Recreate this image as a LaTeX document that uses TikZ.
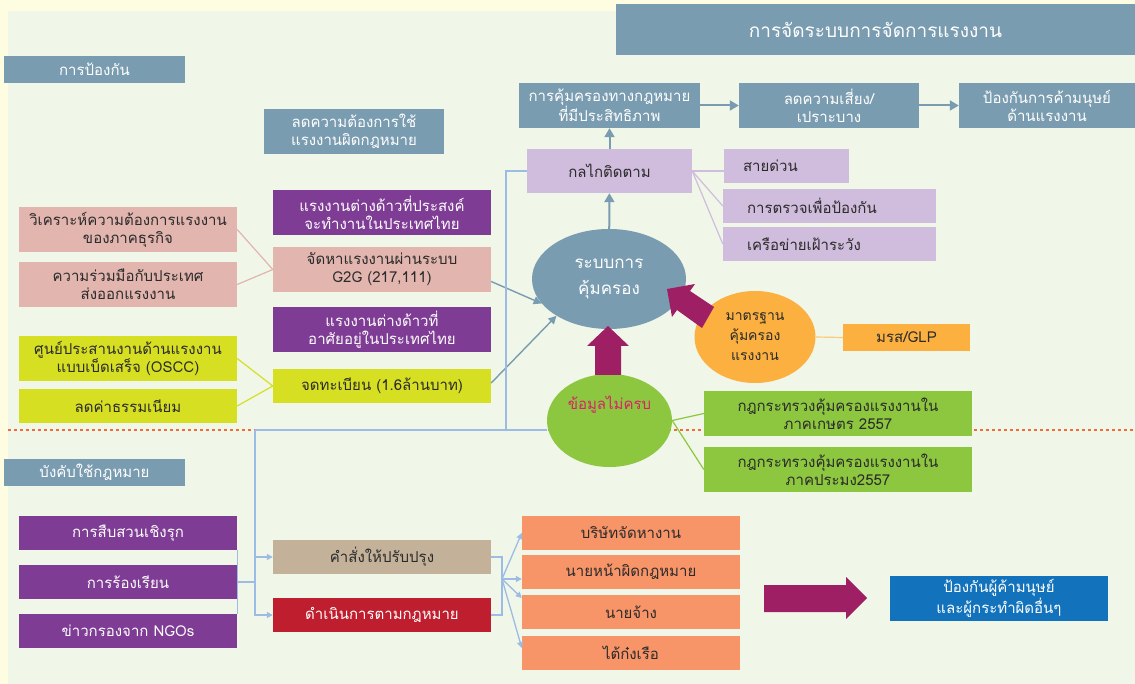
\documentclass[tikz,border=0pt]{standalone}
\usepackage{fontspec}
\usepackage{tikz}
\usetikzlibrary{calc,arrows.meta,shapes.geometric}
\newfontfamily\thaifont[Script=Thai]{Loma}
\definecolor{bgout}{HTML}{FEFCE1}
\definecolor{bgin}{HTML}{F0F6E8}
\definecolor{steel}{HTML}{7A9CB0}
\definecolor{plum}{HTML}{7E3C94}
\definecolor{rose}{HTML}{E2B5AF}
\definecolor{lime}{HTML}{D7DF23}
\definecolor{lilac}{HTML}{D0BCDC}
\definecolor{amber}{HTML}{FBB040}
\definecolor{leaf}{HTML}{8DC63F}
\definecolor{sand}{HTML}{C3B299}
\definecolor{brick}{HTML}{BE1E2D}
\definecolor{salmon}{HTML}{F79468}
\definecolor{royal}{HTML}{1273BC}
\definecolor{wine}{HTML}{9E1F63}
\definecolor{sky}{HTML}{9DBCE4}
\definecolor{ink}{HTML}{2B2B2B}
\definecolor{cut}{HTML}{F26B3A}
\definecolor{pinkred}{HTML}{D8226A}
\tikzset{
  sz/.style 2 args={minimum width=#1pt, minimum height=#2pt},
  box/.style={rectangle, inner sep=0pt, align=center, text=ink,
    font=\thaifont\fontsize{15}{18}\selectfont},
  hd/.style={box, fill=steel, text=white},
  pl/.style={box, fill=plum, text=white},
  rs/.style={box, fill=rose},
  lm/.style={box, fill=lime},
  lc/.style={box, fill=lilac},
  lf/.style={box, fill=leaf},
  sl/.style={box, fill=salmon},
  oval/.style={ellipse, inner sep=0pt, align=center, text=ink,
    font=\thaifont\fontsize{14}{20}\selectfont},
  flow/.style={draw=steel, line width=2pt, -{Triangle[length=9pt,width=10pt]}},
  flowt/.style={draw=steel, line width=1.4pt, -{Triangle[length=8pt,width=8pt]}},
  link/.style={draw=sky, line width=1.3pt},
  linka/.style={link, -{Triangle[length=6pt,width=6pt]}},
  tie/.style={line width=1.2pt},
  bigarr/.style={fill=wine},
}
\begin{document}
\begin{tikzpicture}[x=1pt,y=-1pt]
  \useasboundingbox (0,0) rectangle (1135,684);
  \fill[bgout] (0,0) rectangle (1135,684);
  \fill[bgin] (8,11) rectangle (1135,684);
  \draw[cut, dashed, line width=1.2pt] (8,430) -- (1135,430);

  % headings
  \node[hd, sz={519}{51}, font=\thaifont\fontsize{19}{22}\selectfont] (title) at (875.5,29.5) {การจัดระบบการจัดการแรงงาน};
  \node[hd, sz={181}{27}] (prev) at (94.5,69.5) {การป้องกัน};
  \node[hd, sz={181}{27}] (enf) at (94.5,472.5) {บังคับใช้กฎหมาย};
  \node[hd, sz={180}{45}] (reduce) at (354,131.5) {ลดความต้องการใช้\\แรงงานผิดกฎหมาย};
  \node[hd, sz={181}{45}] (legal) at (609.5,105.5) {การคุ้มครองทางกฎหมาย\\ที่มีประสิทธิภาพ};
  \node[hd, sz={180}{45}] (risk) at (829,105.5) {ลดความเสี่ยง/\\เปราะบาง};
  \node[hd, sz={176}{45}] (antitr) at (1047,105.5) {ป้องกันการค้ามนุษย์\\ด้านแรงงาน};

  % monitoring
  \node[lc, sz={165}{44}] (track) at (609.5,171) {กลไกติดตาม};
  \node[lc, sz={125}{34}, text width=87pt, inner xsep=19pt, align=left] (hot) at (786.5,166) {สายด่วน};
  \node[lc, sz={213}{34}, text width=165pt, inner xsep=24pt, align=left] (insp) at (829.5,206) {การตรวจเพื่อป้องกัน};
  \node[lc, sz={213}{34}, text width=165pt, inner xsep=24pt, align=left] (net) at (829.5,244) {เครือข่ายเฝ้าระวัง};

  % prevention side
  \node[pl, sz={218}{45}] (want) at (382,212.5) {แรงงานต่างด้าวที่ประสงค์\\จะทำงานในประเทศไทย};
  \node[rs, sz={218}{45}] (anal) at (128,229.5) {วิเคราะห์ความต้องการแรงงาน\\ของภาคธุรกิจ};
  \node[rs, sz={218}{45}] (coop) at (128,284.5) {ความร่วมมือกับประเทศ\\ส่งออกแรงงาน};
  \node[rs, sz={218}{45}] (gtog) at (382,269.5) {จัดหาแรงงานผ่านระบบ\\G2G (217,111)};
  \node[pl, sz={218}{45}] (resid) at (382,329.5) {แรงงานต่างด้าวที่\\อาศัยอยู่ในประเทศไทย};
  \node[lm, sz={218}{45}] (oscc) at (128,358.5) {ศูนย์ประสานงานด้านแรงงาน\\แบบเบ็ดเสร็จ (OSCC)};
  \node[lm, sz={218}{34}] (fee) at (128,406) {ลดค่าธรรมเนียม};
  \node[lm, sz={218}{34}] (reg) at (382,386) {จดทะเบียน (1.6ล้านบาท)};

  % protection system
  \node[oval, fill=steel, text=white, sz={154}{100}, font=\thaifont\fontsize{17}{26}\selectfont] (prot) at (609,279) {ระบบการ\\คุ้มครอง};
  \node[oval, fill=amber, sz={121}{92}] (std) at (755,337) {มาตรฐาน\\คุ้มครอง\\แรงงาน};
  \node[box, fill=amber, sz={127}{27}] (glp) at (906.5,337.5) {มรส/GLP};
  \node[oval, fill=leaf, text=pinkred, sz={125}{93}, font=\thaifont\fontsize{15}{18}\selectfont] (lack) at (609.5,420.5) {ข้อมูลไม่ครบ\\[12pt]\strut};
  \node[lf, sz={268}{45}] (law1) at (838,413.5) {กฎกระทรวงคุ้มครองแรงงานใน\\ภาคเกษตร 2557};
  \node[lf, sz={268}{45}] (law2) at (838,469.5) {กฎกระทรวงคุ้มครองแรงงานใน\\ภาคประมง2557};

  % enforcement side
  \node[pl, sz={218}{34}] (inv) at (128,533) {การสืบสวนเชิงรุก};
  \node[pl, sz={218}{34}] (comp) at (128,582) {การร้องเรียน};
  \node[pl, sz={218}{34}] (ngo) at (128,631) {ข่าวกรองจาก NGOs};
  \node[box, fill=sand, sz={218}{34}] (order) at (382,557) {คำสั่งให้ปรับปรุง};
  \node[box, fill=brick, text=white, sz={218}{34}] (act) at (382,615) {ดำเนินการตามกฎหมาย};
  \node[sl, sz={218}{34}] (agency) at (631,533) {บริษัทจัดหางาน};
  \node[sl, sz={218}{34}] (broker) at (631,572) {นายหน้าผิดกฎหมาย};
  \node[sl, sz={218}{34}] (empl) at (631,612) {นายจ้าง};
  \node[sl, sz={218}{34}] (capt) at (631,653) {ไต้ก๋งเรือ};
  \node[box, fill=royal, text=white, sz={218}{45}] (stop) at (999,598.5) {ป้องกันผู้ค้ามนุษย์\\และผู้กระทำผิดอื่นๆ};

  \coordinate (tj) at (506,430);
  \coordinate (jn) at (255,430);
  \coordinate (rj) at (502,579);

  % flows
  \draw[flow] (legal) -- (risk);
  \draw[flow] (risk) -- (antitr);
  \draw[flow] (track) -- (legal);
  \draw[flow] (prot) -- (track);
  \draw[flowt] ($(gtog.east)+(0,12)$) -- (prot.200);
  \draw[flowt] ($(reg.east)+(0,-3)$) -- (prot.215);

  % ties
  \draw[tie, rose] (anal.east) -- (gtog.west);
  \draw[tie, rose] (coop.east) -- (gtog.west);
  \draw[tie, lime] (oscc.east) -- (reg.west);
  \draw[tie, lime] (fee.east) -- (reg.west);
  \draw[tie, lilac] (track.east) -- (track.east -| hot.west);
  \draw[tie, lilac] (track.east) -- (insp.west);
  \draw[tie, lilac] (track.east) -- (net.west);
  \draw[tie, amber!70] (std.east) -- (glp.west);
  \draw[tie, leaf] (lack.east) -- (law1.west);
  \draw[tie, leaf] (lack.east) -- (law2.west);

  % enforcement links
  \draw[link] (track.west) -| (tj);
  \draw[link] (jn) -- (lack.west |- jn);
  \draw[linka] (jn) |- (order.west);
  \draw[linka] (jn) |- (act.west);
  \draw[link] (inv.south east) -- (ngo.north east);
  \draw[link] (comp.east) -- (jn |- comp.east);
  \draw[link] (order.east) -- (rj |- order.east) -- (rj |- act.east) -- (act.east);
  \draw[linka] (rj) -- (agency.west);
  \draw[linka] (rj) -- (rj -| broker.west);
  \draw[linka] (rj) -- ($(empl.west)+(0,-14)$);
  \draw[linka] (rj) -- ($(capt.west)+(0,-5)$);

  % block arrows
  \fill[bigarr] (595,375) -- (595,346) -- (587,346) -- (608,326) -- (629,346) -- (621,346) -- (621,375) -- cycle;
  \fill[bigarr] (714,307) -- (690,291) -- (695,284) -- (667,289) -- (672,317) -- (677,310) -- (702,328) -- cycle;
  \fill[bigarr] (764,585) -- (846,585) -- (846,577) -- (867,598) -- (846,619) -- (846,612) -- (764,612) -- cycle;
\end{tikzpicture}
\end{document}
